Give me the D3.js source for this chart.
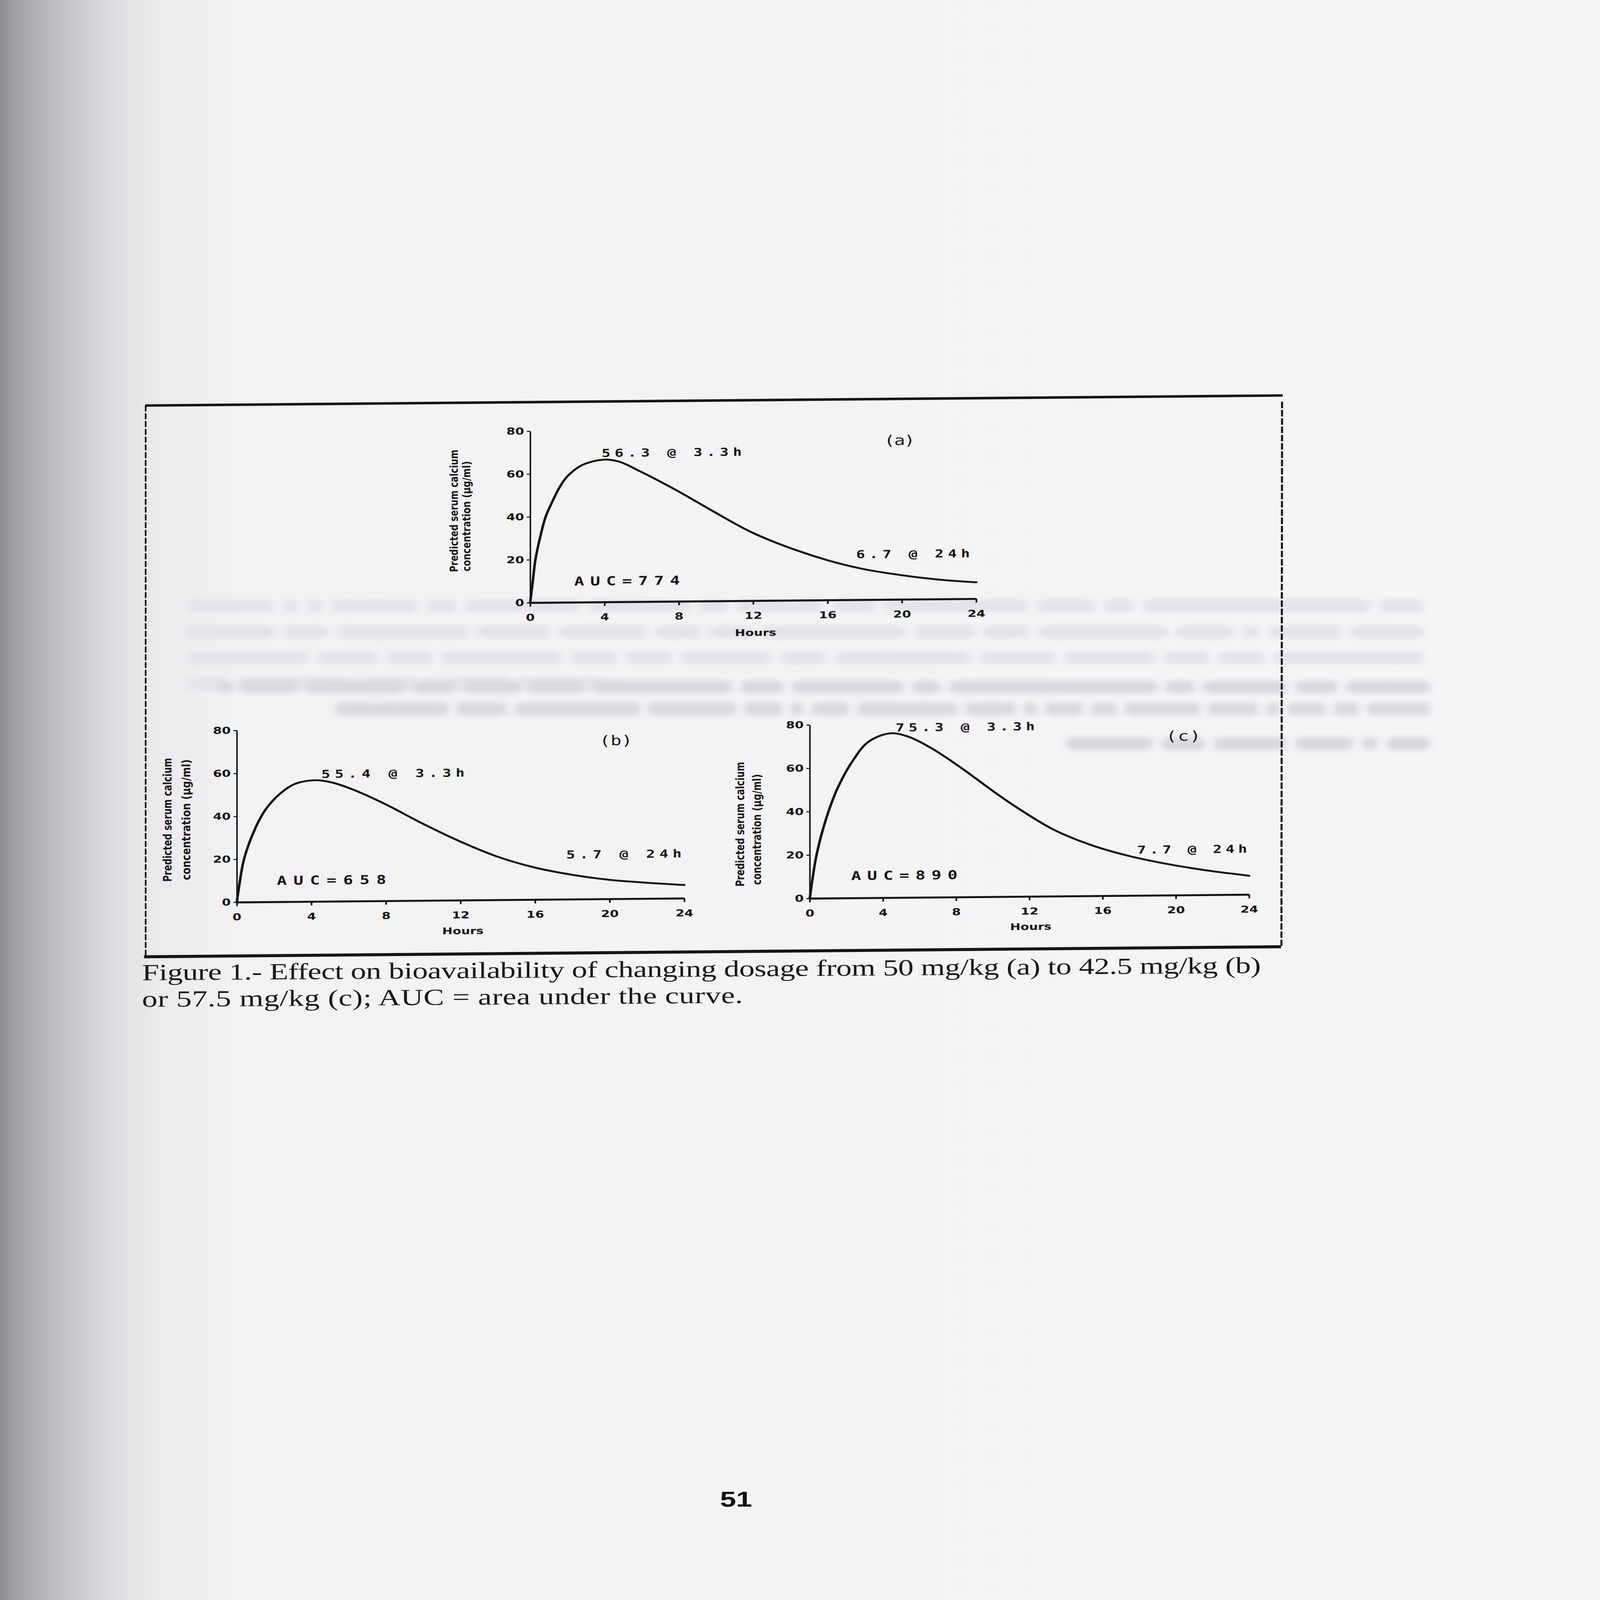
<!DOCTYPE html>
<html><head><meta charset="utf-8">
<script src="https://cdn.jsdelivr.net/npm/d3@7"></script>
<style>html,body{margin:0;padding:0;background:#f4f3f5;overflow:hidden}svg{display:block;width:100vw;height:100vh}</style>
</head><body>
<script>
// ---------- DATA ----------
const hours = [0, 4, 8, 12, 16, 20, 24];
const concTicks = [0, 20, 40, 60, 80];
const panelNames = ["(a)", "(b)", "(c)"];
const peakLabels = ["56.3 @ 3.3h", "55.4 @ 3.3h", "75.3 @ 3.3h"];
const endLabels = ["6.7 @ 24h", "5.7 @ 24h", "7.7 @ 24h"];
const aucLabels = ["AUC=774", "AUC=658", "AUC=890"];
const yTitle1 = "Predicted serum calcium";
const yTitle2 = "concentration   (\u00b5g/ml)";
const xTitle = "Hours";

// curve (a) 50 mg/kg
const timeA = [0, 0.14, 0.28, 0.55, 0.83, 1.22, 1.6, 2.0, 2.8, 3.9, 4.76, 5.94, 8, 9.9, 11.9, 14, 16, 17.9, 20, 22, 24];
const concA = [0, 10, 20, 31, 40, 47.6, 54, 58.8, 64.0, 66.4, 65.5, 60.7, 51.2, 41.6, 32.0, 24.4, 18.6, 14.4, 11.3, 9.1, 7.7];
// curve (b) 42.5 mg/kg
const timeB = [0, 0.15, 0.39, 0.98, 1.56, 2.35, 3.13, 4.2, 5.1, 6.26, 7.96, 9.98, 12, 14, 16, 18, 20, 22, 24];
const concB = [0, 9, 20.2, 34.2, 43.3, 50.6, 54.9, 56.5, 55.4, 51.9, 45.1, 35.8, 27.3, 20.1, 14.9, 11.4, 8.9, 7.4, 6.2];
// curve (c) 57.5 mg/kg
const timeC = [0, 0.15, 0.38, 0.91, 1.54, 2.38, 3.23, 4.39, 5.34, 6.6, 8.12, 10.2, 11.24, 13.35, 15.46, 17.57, 19.67, 21.78, 24];
const concC = [0, 9, 20.4, 37.1, 51.1, 63.7, 72.1, 75.8, 74.3, 69.0, 60.5, 47.6, 41.5, 30.6, 23.2, 18.0, 14.2, 11.2, 8.7];

const captionLines = [
  "Figure 1.- Effect on bioavailability of changing dosage from 50 mg/kg (a) to 42.5 mg/kg (b)",
  "or 57.5 mg/kg (c); AUC = area under the curve."
];
const pageNumber = "51";

// faint show-through print from the neighbouring pages (drawn only as faded word smudges)
const ghostLines = [
  "Figure 3 - Effect of parallel changes in dosage and absorption rate on bioavailability; the",
  "dosage was decreased (42.5 mg/kg) and the absorption rate was decreased (K01 = 0.17, left)",
  "compared with the control; or, the dosage was increased (57.5 mg/kg) and the absorption",
  "was increased (K01 = 0.23, right)."
];
const ghostMirrorLines = [
  "Figure 2.- Effect on bioavailability of changing the absorption rate from the control (K01 =",
  "0.20) to K01 = 0.17 (left) or K01 = 0.23 (right). K01 = the primary absorption rate constant.",
  "AUC = area under the curve."
];

// ---------- LAYOUT ----------
const W = 4756, H = 6380;
const ink = "#151515";
const layout = [
  {x0:1576, x1:2902, y0:2397, y1:1713, t1:[1361,2272,488], t2:[1398,2270,440], ts:33,
   name:[2628,1781,92], peak:[1788,1818,417], end:[2545,2231,338], auc:[1707,2330,314], hx:2246, hy:2537},
  {x0:704, x1:2034, y0:3581, y1:2896, t1:[510,3497,494], t2:[566,3491,482], ts:35,
   name:[1782,2968,98], peak:[955,3088,426], end:[1683,3418,343], auc:[823,3513,325], hx:1376, hy:3716},
  {x0:2407, x1:3713, y0:3586, y1:2894, t1:[2212,3536,497], t2:[2262,3530,442], ts:35,
   name:[3466,2970,103], peak:[2662,2923,414], end:[3380,3419,327], auc:[2530,3514,316], hx:3064, hy:3719}
];
const series = [[timeA, concA], [timeB, concB], [timeC, concC]];
const ghostRowsN = [[560, 2440, 3670], [560, 2545, 3670], [560, 2648, 3670], [560, 2752, 1250]];
const ghostRowsM = [[650, 2764, 3600], [1000, 2852, 3250], [3170, 2990, 1080]];

const svg = d3.select("body").append("svg")
  .attr("viewBox", `0 0 ${W} ${H}`).attr("preserveAspectRatio", "none");
const defs = svg.append("defs");
const grad = defs.append("linearGradient").attr("id", "shade")
  .attr("x1", 0).attr("x2", 1).attr("y1", 0).attr("y2", 0);
[[0,"#8f8d93"],[0.01,"#a2a0a5"],[0.035,"#c1bfc3"],[0.06,"#d7d5d9"],[0.08,"#e3e2e5"],
 [0.1,"#ebeaec"],[0.15,"#f2f1f3"],[1,"#f5f4f6"]]
  .forEach(([o,c]) => grad.append("stop").attr("offset", o).attr("stop-color", c));
defs.append("filter").attr("id", "smudge").attr("x", "-5%").attr("y", "-60%")
  .attr("width", "110%").attr("height", "220%")
  .append("feGaussianBlur").attr("stdDeviation", 11);

svg.append("rect").attr("width", W).attr("height", H).attr("fill", "url(#shade)");

// show-through smudges, one per word
const ghost = svg.append("g").attr("filter", "url(#smudge)");
function ghostWords(str, row, mirror, color) {
  const [x0, yb, width] = row;
  const words = str.split(" ");
  const total = d3.sum(words, w => w.length) + (words.length - 1) * 0.7;
  const unit = width / total;
  let cx = 0;
  words.forEach(w => {
    const ww = w.length * unit;
    const xx = mirror ? x0 + width - cx - ww : x0 + cx;
    ghost.append("rect").attr("x", xx).attr("y", yb - 50).attr("width", ww).attr("height", 50)
      .attr("rx", 14).attr("fill", color);
    cx += ww + 0.7 * unit;
  });
}
ghostLines.forEach((s, i) => ghostWords(s, ghostRowsN[i], false, "#e3e3e8"));
ghostMirrorLines.forEach((s, i) => ghostWords(s, ghostRowsM[i], true, "#d8d8de"));

// figure group with slight scan skew
const fig = svg.append("g")
  .attr("transform", "translate(2120,0) skewY(-0.68) translate(-2120,0)");

// frame
fig.append("line").attr("x1", 432).attr("x2", 3813).attr("y1", 1597).attr("y2", 1597)
  .attr("stroke", ink).attr("stroke-width", 10);
fig.append("line").attr("x1", 428).attr("x2", 3808).attr("y1", 3795).attr("y2", 3795)
  .attr("stroke", ink).attr("stroke-width", 12);
fig.append("line").attr("x1", 433).attr("x2", 433).attr("y1", 1597).attr("y2", 3795)
  .attr("stroke", ink).attr("stroke-width", 5).attr("stroke-dasharray", "24,7");
fig.append("line").attr("x1", 3811).attr("x2", 3809).attr("y1", 1622).attr("y2", 3792)
  .attr("stroke", ink).attr("stroke-width", 6).attr("stroke-dasharray", "26,7");

layout.forEach((p, i) => {
  const x = d3.scaleLinear().domain([0, 24]).range([p.x0, p.x1]);
  const y = d3.scaleLinear().domain([0, 80]).range([p.y0, p.y1]);
  const g = fig.append("g");

  const xa = g.append("g").attr("transform", `translate(0,${p.y0})`)
    .call(d3.axisBottom(x).tickValues(hours).tickSize(15).tickSizeOuter(0).tickPadding(30));
  xa.select(".domain").attr("stroke", ink).attr("stroke-width", 8);
  xa.selectAll(".tick line").attr("stroke", ink).attr("stroke-width", 5);
  xa.selectAll(".tick text").attr("font-family", "DejaVu Sans").attr("font-weight", "bold")
    .attr("font-size", 38).attr("fill", ink);

  const ya = g.append("g").attr("transform", `translate(${p.x0},0)`)
    .call(d3.axisLeft(y).tickValues(concTicks).tickSize(10).tickSizeOuter(0).tickPadding(8));
  ya.select(".domain").attr("stroke", ink).attr("stroke-width", 4.5);
  ya.selectAll(".tick line").attr("stroke", ink).attr("stroke-width", 4);
  ya.selectAll(".tick text").attr("font-family", "DejaVu Sans").attr("font-weight", "bold")
    .attr("font-size", 38).attr("fill", ink);

  const [tt, cc] = series[i];
  g.append("path").datum(d3.zip(tt, cc))
    .attr("d", d3.line().x(d => x(d[0])).y(d => y(d[1])).curve(d3.curveCatmullRom.alpha(0.5)))
    .attr("fill", "none").attr("stroke", ink).attr("stroke-width", 7.5)
    .attr("stroke-linecap", "round").attr("stroke-linejoin", "round");

  // y titles
  [[yTitle1, p.t1], [yTitle2, p.t2]].forEach(([txt, pos]) => {
    g.append("text").attr("transform", `translate(${pos[0]},${pos[1]}) rotate(-90)`)
      .attr("font-family", "DejaVu Sans").attr("font-weight", "bold").attr("font-size", p.ts)
      .attr("fill", ink).attr("textLength", pos[2]).attr("lengthAdjust", "spacingAndGlyphs")
      .text(txt);
  });

  g.append("text").attr("x", p.hx).attr("y", p.hy).attr("text-anchor", "middle")
    .attr("font-family", "DejaVu Sans").attr("font-weight", "bold").attr("font-size", 37)
    .attr("fill", ink).text(xTitle);

  const mono = (txt, pos, size) => g.append("text").attr("x", pos[0]).attr("y", pos[1])
    .attr("font-family", "DejaVu Sans Mono").attr("font-weight", "bold")
    .attr("font-size", size).attr("fill", ink)
    .attr("textLength", pos[2]).attr("lengthAdjust", "spacing").text(txt);
  mono(panelNames[i], p.name, 54).attr("font-weight", "normal");
  mono(peakLabels[i], p.peak, 44);
  mono(endLabels[i], p.end, 44);
  mono(aucLabels[i], p.auc, 49);
});

// caption
const cap = svg.append("g")
  .attr("transform", "translate(2120,0) skewY(-0.5) translate(-2120,0)")
  .attr("font-family", "Liberation Serif, Times New Roman, serif").attr("fill", "#191919")
  .attr("font-size", 92);
const capY = [3894, 4000];
const capW = [3326, 1786];
captionLines.forEach((t, i) => {
  cap.append("text").attr("x", 422).attr("y", capY[i])
    .attr("textLength", capW[i]).attr("lengthAdjust", "spacing").text(t);
});

// page number
svg.append("text").attr("x", 2188).attr("y", 6008).attr("text-anchor", "middle")
  .attr("font-family", "Liberation Sans, Arial, sans-serif").attr("font-weight", "bold")
  .attr("font-size", 86).attr("fill", "#111").text(pageNumber);
</script>
</body></html>
